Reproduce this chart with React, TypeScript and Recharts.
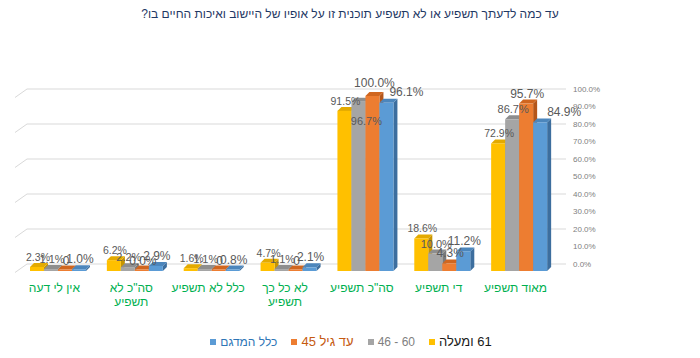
import React from 'react';
import { BarChart, Bar, XAxis, YAxis, CartesianGrid, LabelList, Legend } from 'recharts';

// ---- data ----
const categories = ['אין לי דעה', 'סה"כ לא תשפיע', 'כלל לא תשפיע', 'לא כל כך תשפיע', 'סה"כ תשפיע', 'די תשפיע', 'מאוד תשפיע'];
const age61plus = [2.3, 6.2, 1.6, 4.7, 91.5, 18.6, 72.9];
const age46to60 = [1.1, 2.2, 1.1, 1.1, 96.7, 10.0, 86.7];
const ageUpTo45 = [0, 0, 0, 0, 100.0, 4.3, 95.7];
const totalSample = [1.0, 2.9, 0.8, 2.1, 96.1, 11.2, 84.9];
const upTo45LabelTexts = ['0', '0.0%', '0', '0', '100.0%', '4.3%', '95.7%'];
const seriesNames = ['61 ומעלה', '46 - 60', 'עד גיל 45', 'כלל המדגם'];
const yTicks = [0, 10, 20, 30, 40, 50, 60, 70, 80, 90, 100];
const titleText = 'עד כמה לדעתך תשפיע או לא תשפיע תוכנית זו על אופיו של היישוב ואיכות החיים בו?';

const data = categories.map((c, i) => ({
  category: c,
  s0: age61plus[i],
  s1: age46to60[i],
  s2: ageUpTo45[i],
  s3: totalSample[i],
}));

// ---- styles ----
const FONT = '"Liberation Sans", Arial, sans-serif';
const palettes = [
  { front: '#FFC000', cap: '#E3AA00', side: '#C79500' },
  { front: '#A5A5A5', cap: '#8E8E8E', side: '#7A7A7A' },
  { front: '#ED7D31', cap: '#D0661F', side: '#B4561A' },
  { front: '#5B9BD5', cap: '#4C86BC', side: '#3D6E9E' },
];
const legendTextStyles: any[] = [
  { color: '#1a1a1a', fontSize: 13, direction: 'rtl', unicodeBidi: 'isolate' },
  { color: '#7F7F7F', fontSize: 12, direction: 'ltr', unicodeBidi: 'isolate' },
  { color: '#C55A11', fontSize: 13, direction: 'rtl', unicodeBidi: 'isolate' },
  { color: '#2E75B6', fontSize: 12, direction: 'rtl', unicodeBidi: 'isolate' },
];
const labelFontSizes = [10.5, 11, 12, 12];
const FRONT_DX = -7;
const FRONT_DY = 7;
const DEPTH_X = 4;
const DEPTH_Y = 4;
const labelNudges: Record<string, [number, number]> = {
  '1-4': [7, 29],
  '3-4': [19, -1],
  '3-6': [23, 0],
  '2-4': [1, -3],
};

const makeShape = (s: number) => (props: any) => {
  const { x, y, width, height } = props;
  const p = palettes[s];
  const fx = x + FRONT_DX;
  const h = Math.max(height, 1.5);
  const top = y + FRONT_DY + height - h;
  const bottom = top + h;
  return (
    <g>
      <polygon
        points={`${fx + width},${top} ${fx + width + DEPTH_X},${top - DEPTH_Y} ${fx + width + DEPTH_X},${bottom - DEPTH_Y} ${fx + width},${bottom}`}
        fill={p.side}
      />
      <polygon
        points={`${fx},${top} ${fx + DEPTH_X},${top - DEPTH_Y} ${fx + width + DEPTH_X},${top - DEPTH_Y} ${fx + width},${top}`}
        fill={p.cap}
      />
      <rect x={fx} y={top} width={width} height={h} fill={p.front} />
    </g>
  );
};

const makeLabel = (s: number) => (props: any) => {
  const { x, y, width, value, index } = props;
  const nudge = labelNudges[`${s}-${index}`] || [0, 0];
  const cx = x + FRONT_DX + width / 2 + 1 + nudge[0];
  const by = y + 1 + nudge[1];
  const text = s === 2 ? upTo45LabelTexts[index] : `${Number(value).toFixed(1)}%`;
  return (
    <text x={cx} y={by} textAnchor="middle" fill="#595959" fontSize={labelFontSizes[s]} fontFamily={FONT}>
      {text}
    </text>
  );
};

const CategoryTick = (props: any) => {
  const { x, y, payload } = props;
  const label: string = payload.value;
  const words = label.split(' ');
  const lines = label.length > 12 ? [words.slice(0, -1).join(' '), words[words.length - 1]] : [label];
  const cx = x - 11;
  return (
    <text x={cx} y={y} textAnchor="middle" fill="#00B050" fontSize={12} fontFamily={FONT}>
      {lines.map((l, i) => (
        <tspan key={i} x={cx} dy={i === 0 ? 20 : 14}>
          {l}
        </tspan>
      ))}
    </text>
  );
};

const gridLine = (props: any) => {
  const { x1, x2, y1 } = props;
  return (
    <g key={`g-${y1}`}>
      <line x1={x1 - 12} y1={y1 + 8.5} x2={x1} y2={y1} stroke="#D9D9D9" strokeWidth={1} />
      <line x1={x1} y1={y1} x2={x2 + 1} y2={y1} stroke="#D9D9D9" strokeWidth={1} />
    </g>
  );
};

const LegendContent = () => {
  const order = [3, 2, 1, 0];
  return (
    <div style={{ display: 'flex', justifyContent: 'center', alignItems: 'center', fontFamily: FONT, paddingLeft: 16 }}>
      {order.map((s) => (
        <div key={s} style={{ display: 'flex', alignItems: 'center', marginRight: 14 }}>
          <span style={{ display: 'inline-block', width: 6, height: 6, background: palettes[s].front, marginRight: 4 }} />
          <span style={{ ...legendTextStyles[s], lineHeight: '16px' }}>{seriesNames[s]}</span>
        </div>
      ))}
    </div>
  );
};

export default function App() {
  return (
    <div style={{ position: 'absolute', left: 0, top: 0, width: 700, height: 358, background: '#fff' }}>
      <div
        style={{
          position: 'absolute',
          top: 7,
          left: 0,
          width: 700,
          textAlign: 'center',
          fontFamily: FONT,
          fontSize: 12,
          color: '#1F3864',
          direction: 'rtl',
          zIndex: 2,
        }}
      >
        {titleText}
      </div>
      <BarChart
        width={700}
        height={358}
        data={data}
        margin={{ top: 89, right: 0, bottom: 0, left: 27 }}
        barSize={14}
        barGap={0}
      >
        <CartesianGrid vertical={false} horizontal={gridLine} />
        <XAxis
          dataKey="category"
          interval={0}
          axisLine={false}
          tickLine={false}
          height={94}
          tick={<CategoryTick />}
        />
        <YAxis
          orientation="right"
          domain={[0, 100]}
          ticks={yTicks}
          width={135}
          axisLine={false}
          tickLine={false}
          tickFormatter={(v: number) => `${v.toFixed(1)}%`}
          tick={{ fontSize: 8, fill: '#808080', fontFamily: FONT }}
        />
        <Legend
          verticalAlign="middle"
          align="center"
          layout="horizontal"
          wrapperStyle={{ top: 334, left: 0, width: 700 }}
          content={() => <LegendContent />}
        />
        {['s0', 's1', 's2', 's3'].map((k, s) => (
          <Bar key={k} dataKey={k} name={seriesNames[s]} fill={palettes[s].front} isAnimationActive={false} shape={makeShape(s)}>
            <LabelList dataKey={k} content={makeLabel(s)} />
          </Bar>
        ))}
      </BarChart>
    </div>
  );
}
